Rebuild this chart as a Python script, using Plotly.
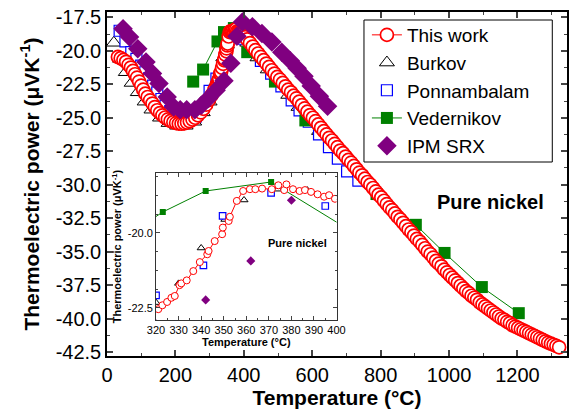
import plotly.graph_objects as go

# ---------------- data ----------------
this_T = [32, 40, 48, 56, 63, 70, 76, 82, 88, 94, 100, 106, 112, 119, 126, 133, 140, 147, 155, 162,
          170, 178, 186, 194, 202, 210, 218, 226, 234, 242, 250, 258, 266, 274, 282, 290, 298, 306, 314,
          321, 322.8, 324.9, 326.8, 328.3, 330.4, 331.2, 333.6, 336.5, 339.4, 342.7, 343.3, 346, 349.3,
          349.6, 352.2, 352.7, 355.8, 358.6, 361.6, 364, 367, 371.3, 374.2, 376.8, 377.8, 380.7, 383.6,
          386, 388.7, 391.6, 394.5, 396.7, 399.3,
          404, 410, 418, 426, 434, 442, 450, 458, 466, 474, 482, 490, 498, 506, 514, 522, 530, 538, 546,
          554, 562, 570, 578, 586, 594, 602, 610, 618, 626, 634, 642, 650, 658, 666, 674, 682, 690, 698,
          706, 714, 722, 730, 738, 746, 754, 762, 770, 778, 786, 794, 802, 810, 818, 826, 834, 842, 850,
          858, 866, 874, 882, 890, 898, 906, 914, 922, 930, 938, 946, 954, 962, 970, 978, 986, 994, 1002,
          1010, 1018, 1026, 1034, 1042, 1050, 1058, 1066, 1074, 1082, 1090, 1098, 1106, 1114, 1122, 1130,
          1138, 1146, 1154, 1162, 1170, 1178, 1186, 1194, 1202, 1210, 1218, 1226, 1234, 1242, 1250, 1258,
          1266, 1274, 1282, 1290, 1298, 1306, 1314, 1322]
this_V = [-20.46, -20.55, -20.68, -20.82, -21.05, -21.25, -21.5, -21.75, -22.0, -22.3, -22.6, -22.9, -23.2,
          -23.45, -23.7, -23.94, -24.2, -24.44, -24.65, -24.82, -24.98, -25.12, -25.24, -25.33, -25.4, -25.44,
          -25.45, -25.42, -25.36, -25.26, -25.14, -25.0, -24.82, -24.6, -24.33, -24.02, -23.68, -23.3, -22.9,
          -22.54, -22.41, -22.3, -22.16, -22.1, -21.74, -21.68, -21.58, -21.27, -20.97, -20.71, -20.6, -20.27,
          -20.04, -19.82, -19.6, -19.46, -18.93, -18.6, -18.54, -18.54, -18.52, -18.54, -18.41, -18.57, -18.38,
          -18.54, -18.6, -18.57, -18.63, -18.71, -18.79, -18.74, -18.86,
          -18.98, -19.15, -19.42, -19.68, -19.95, -20.2, -20.45, -20.7, -20.95, -21.2, -21.45, -21.7, -21.95,
          -22.15, -22.4, -22.65, -22.9, -23.1, -23.35, -23.55, -23.8, -24.05, -24.3, -24.55, -24.8, -25.0,
          -25.25, -25.5, -25.75, -26.0, -26.25, -26.5, -26.7, -26.95, -27.2, -27.45, -27.65, -27.9, -28.15,
          -28.35, -28.6, -28.85, -29.1, -29.3, -29.55, -29.8, -30.0, -30.25, -30.5, -30.75, -30.95, -31.2,
          -31.45, -31.7, -31.9, -32.15, -32.4, -32.6, -32.85, -33.1, -33.35, -33.55, -33.8, -34.05, -34.25,
          -34.5, -34.75, -35.0, -35.2, -35.45, -35.7, -35.9, -36.1, -36.35, -36.55, -36.75, -36.95, -37.15,
          -37.35, -37.55, -37.75, -37.95, -38.1, -38.3, -38.45, -38.6, -38.8, -38.95, -39.1, -39.25, -39.4,
          -39.55, -39.7, -39.85, -40.0, -40.1, -40.25, -40.35, -40.5, -40.6, -40.7, -40.8, -40.9, -41.0,
          -41.1, -41.2, -41.3, -41.4, -41.5, -41.6, -41.7, -41.8, -41.88, -41.96, -42.05, -42.15]

burkov_T = [20, 38, 55, 72, 90, 110, 130, 155, 180, 205, 230, 255, 280, 300, 320, 330, 340, 350.5, 359,
            374, 387, 410, 440, 470, 500, 530, 560, 590, 620]
burkov_V = [-19.4, -20.6, -21.6, -22.4, -23.1, -23.8, -24.4, -25.0, -25.4, -25.6, -25.6, -25.3, -24.6,
            -23.8, -22.32, -21.68, -20.5, -19.55, -18.9, -18.54, -18.57, -19.4, -20.5, -21.4, -22.4,
            -23.3, -24.2, -25.1, -26.0]

ponn_T = [37, 54, 71, 86, 100, 112, 123, 135, 147, 159, 171, 185, 200, 220, 240, 260, 280, 300, 320,
          341, 349.5, 371, 395, 420, 450, 480, 510, 540, 563, 590, 620, 649, 675, 702, 735]
ponn_V = [-18.5, -19.3, -20.1, -20.6, -21.1, -21.6, -22.05, -22.6, -23.1, -23.6, -24.1, -24.5, -24.85,
          -25.1, -25.15, -24.9, -24.2, -23.0, -22.08, -21.08, -19.43, -18.66, -19.1, -19.8, -20.75, -21.7,
          -22.65, -23.7, -24.45, -25.3, -26.25, -27.2, -28.05, -29.0, -29.7]

vedern_T = [252, 281, 323, 342, 371, 410, 491, 580, 788, 903, 987, 1096, 1204]
vedern_V = [-22.3, -21.4, -19.3, -18.6, -18.3, -20.1, -22.3, -25.2, -30.7, -33.0, -35.1, -37.65, -39.6]

ipm_T = [47, 66, 90, 114, 133, 152, 176, 195, 214, 233, 257, 276, 296, 319, 342, 362, 380, 396, 425,
         453, 482, 511, 536, 556, 576, 597, 621, 645]
ipm_V = [-18.35, -18.97, -19.84, -20.84, -21.7, -22.45, -23.45, -24.2, -24.4, -24.4, -24.4, -24.07,
         -23.57, -22.95, -22.23, -20.93, -18.91, -17.85, -18.2, -18.7, -19.34, -20.1, -20.75, -21.3,
         -21.9, -22.62, -23.4, -24.15]

main_y_ticks = [-17.5, -20.0, -22.5, -25.0, -27.5, -30.0, -32.5, -35.0, -37.5, -40.0, -42.5]
main_y_labels = ["-17.5", "-20.0", "-22.5", "-25.0", "-27.5", "-30.0", "-32.5", "-35.0", "-37.5",
                 "-40.0", "-42.5"]
main_x_ticks = [0, 200, 400, 600, 800, 1000, 1200]
inset_y_ticks = [-20.0, -22.5]
inset_y_labels = ["-20.0", "-22.5"]
inset_x_ticks = [320, 330, 340, 350, 360, 370, 380, 390, 400]

# ---------------- figure ----------------
FONT = "Liberation Sans, Arial, sans-serif"
RED, BLUE, GREEN, PURPLE = "#FF0000", "#0000FF", "#008000", "#800080"

fig = go.Figure()


def add_series(xa, ya, big, legend):
    fig.add_trace(go.Scatter(
        x=burkov_T, y=burkov_V, mode="markers", name="Burkov", xaxis=xa, yaxis=ya,
        showlegend=legend, legendrank=2,
        marker=dict(symbol="triangle-up", size=13 if big else 7, color="white",
                    line=dict(color="black", width=1))))
    fig.add_trace(go.Scatter(
        x=ponn_T, y=ponn_V, mode="markers", name="Ponnambalam", xaxis=xa, yaxis=ya,
        showlegend=legend, legendrank=3,
        marker=dict(symbol="square", size=11 if big else 6.5, color="white",
                    line=dict(color=BLUE, width=1.2))))
    fig.add_trace(go.Scatter(
        x=vedern_T, y=vedern_V, mode="lines+markers", name="Vedernikov", xaxis=xa, yaxis=ya,
        showlegend=legend, legendrank=4,
        line=dict(color=GREEN, width=1),
        marker=dict(symbol="square", size=12 if big else 6, color=GREEN, line=dict(width=0))))
    fig.add_trace(go.Scatter(
        x=this_T, y=this_V, mode="lines+markers", name="This work", xaxis=xa, yaxis=ya,
        showlegend=legend, legendrank=1,
        line=dict(color=RED, width=1),
        marker=dict(symbol="circle", size=13 if big else 7, color="white",
                    line=dict(color=RED, width=1.7 if big else 1))))
    fig.add_trace(go.Scatter(
        x=ipm_T, y=ipm_V, mode="markers", name="IPM SRX", xaxis=xa, yaxis=ya,
        showlegend=legend, legendrank=5,
        marker=dict(symbol="diamond", size=15 if big else 7, color=PURPLE, line=dict(width=0))))


add_series("x", "y", True, True)
add_series("x2", "y2", False, False)

axis_common = dict(showline=True, linecolor="black", mirror="ticks", ticks="inside",
                   showgrid=False, zeroline=False)

# plot-area pixel frame: x 107..576, y 12..356
def px_x(p):
    return (p - 107) / 469.0


def px_y(p):
    return (356 - p) / 344.0


fig.update_layout(
    width=579, height=411,
    margin=dict(l=107, r=3, t=12, b=55),
    paper_bgcolor="white", plot_bgcolor="white",
    font=dict(family=FONT, color="black"),
    showlegend=True,
    legend=dict(x=px_x(372), y=px_y(16), xanchor="left", yanchor="top",
                borderwidth=0, bgcolor="rgba(0,0,0,0)",
                font=dict(size=19, family=FONT), itemsizing="trace"),
    shapes=[dict(type="rect", xref="paper", yref="paper", x0=px_x(369), x1=px_x(561),
                 y0=px_y(162), y1=px_y(20), line=dict(color="black", width=1),
                 fillcolor="white", layer="below")],
    xaxis=dict(axis_common, domain=[0, 1], range=[0, 1345], tickvals=main_x_ticks,
               ticklen=6, tickwidth=1.5, linewidth=1.5,
               minor=dict(dtick=100, tick0=0, ticklen=3, ticks="inside", tickwidth=1.2),
               tickfont=dict(size=20),
               title=dict(text="<b>Temperature (°C)</b>", font=dict(size=21), standoff=4)),
    yaxis=dict(axis_common, domain=[0, 1], range=[-42.8, -17.1], tickvals=main_y_ticks,
               ticktext=main_y_labels, ticklen=6, tickwidth=1.5, linewidth=1.5,
               minor=dict(dtick=1.25, tick0=-17.5, ticklen=3, ticks="inside", tickwidth=1.2),
               tickfont=dict(size=20),
               title=dict(text="<b>Thermoelectric power (μVK<sup>-1</sup>)</b>", font=dict(size=21),
                          standoff=10)),
    xaxis2=dict(axis_common, domain=[0.1066, 0.499], anchor="y2", range=[320, 400],
                tickvals=inset_x_ticks, ticklen=4, tickwidth=1, linewidth=1, linecolor="#333333",
                minor=dict(dtick=5, tick0=320, ticklen=2, ticks="inside"),
                tickfont=dict(size=11),
                title=dict(text="<b>Temperature (°C)</b>", font=dict(size=11), standoff=3)),
    yaxis2=dict(axis_common, domain=[0.1047, 0.532], anchor="x2", range=[-22.9, -18.0],
                tickvals=inset_y_ticks, ticktext=inset_y_labels, ticklen=4, tickwidth=1, linewidth=1,
                linecolor="#333333",
                minor=dict(dtick=0.625, tick0=-20, ticklen=2, ticks="inside"),
                tickfont=dict(size=11),
                title=dict(text="<b>Thermoelectric power (μVK<sup>-1</sup>)</b>", font=dict(size=11),
                           standoff=3)),
    annotations=[
        dict(x=1122, y=-31.3, xref="x", yref="y", text="<b>Pure nickel</b>", showarrow=False,
             font=dict(size=20)),
        dict(x=382.6, y=-20.33, xref="x2", yref="y2", text="<b>Pure nickel</b>", showarrow=False,
             font=dict(size=11)),
    ],
)

fig.write_html("out.html")
